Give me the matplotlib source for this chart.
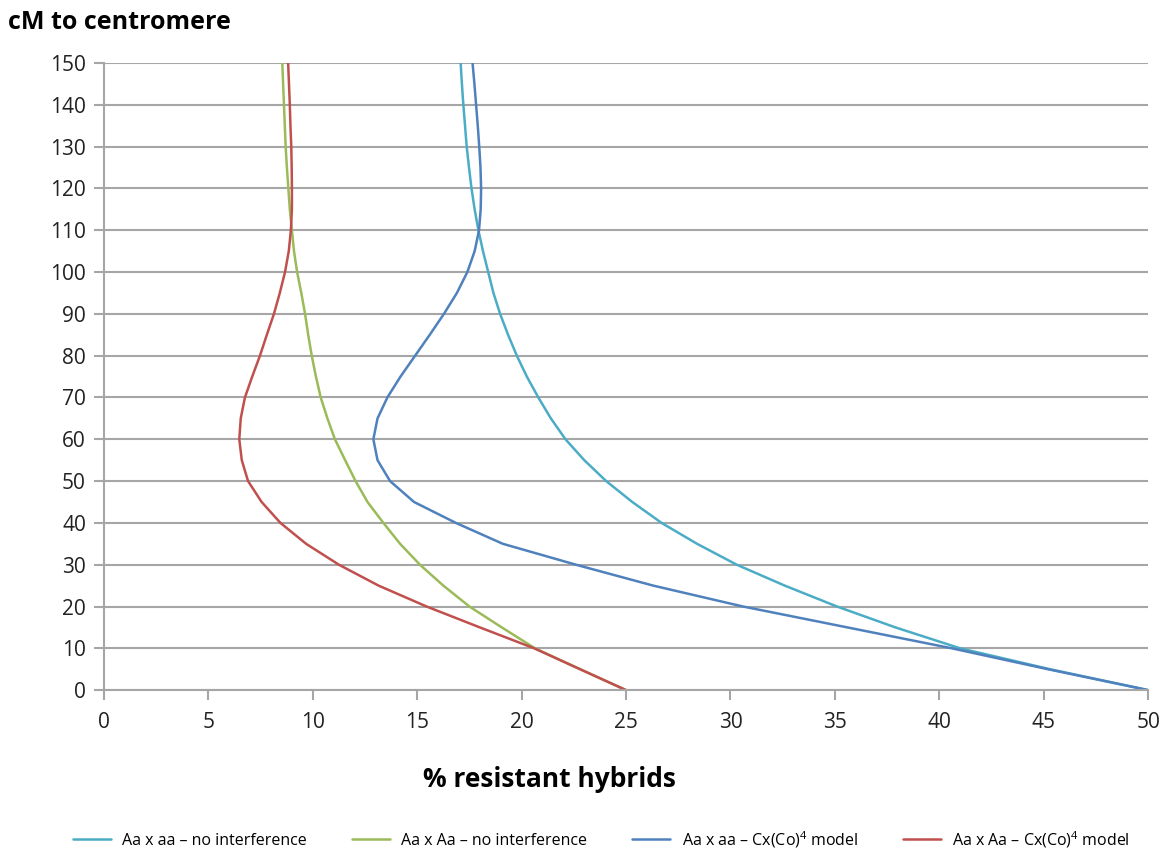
import matplotlib.pyplot as plt

# cM to centromere (y) and % resistant hybrids (x) for each series
cm = [0, 5, 10, 15, 20, 25, 30, 35, 40, 45, 50, 55, 60, 65, 70, 75,
      80, 85, 90, 95, 100, 105, 110, 115, 120, 125, 130, 135, 140, 145, 150]

aa_no_int = [50, 45.3, 41.0, 37.9, 35.1, 32.6, 30.3, 28.4, 26.7, 25.3, 24.05,
             23.0, 22.1, 21.4, 20.8, 20.25, 19.77, 19.35, 18.97, 18.65, 18.4,
             18.15, 17.93, 17.75, 17.6, 17.48, 17.37, 17.29, 17.21, 17.14, 17.08]
Aa_no_int = [25, 22.8, 20.64, 19.05, 17.5, 16.25, 15.13, 14.18, 13.38, 12.62, 12.05,
             11.55, 11.06, 10.7, 10.38, 10.15, 9.95, 9.78, 9.63, 9.45, 9.25,
             9.1, 9.0, 8.9, 8.83, 8.76, 8.7, 8.66, 8.62, 8.58, 8.54]
aa_cx = [50, 45.2, 40.6, 35.6, 30.6, 26.3, 22.6, 19.1, 16.85, 14.85, 13.7,
         13.1, 12.9, 13.1, 13.57, 14.2, 14.9, 15.6, 16.28, 16.9, 17.4,
         17.75, 17.96, 18.04, 18.06, 18.03, 17.97, 17.9, 17.82, 17.74, 17.65]
Aa_cx = [25, 22.8, 20.6, 18.0, 15.45, 13.15, 11.25, 9.68, 8.45, 7.55, 6.9,
         6.6, 6.48, 6.55, 6.75, 7.1, 7.47, 7.8, 8.14, 8.42, 8.67,
         8.85, 8.95, 9.0, 9.0, 8.99, 8.97, 8.93, 8.9, 8.86, 8.82]

labels = ["Aa x aa \u2013 no interference",
          "Aa x Aa \u2013 no interference",
          "Aa x aa \u2013 Cx(Co)$^4$ model",
          "Aa x Aa \u2013 Cx(Co)$^4$ model"]
colors = ["#4BACC6", "#9BBB59", "#4F81BD", "#C0504D"]

plt.rcParams["font.family"] = ["Open Sans", "DejaVu Sans"]
plt.rcParams["mathtext.fontset"] = "custom"
plt.rcParams["mathtext.rm"] = "Open Sans"

fig = plt.figure(figsize=(11.68, 8.52), dpi=100)
ax = fig.add_axes([0.089, 0.190, 0.894, 0.736])

for xs, lab, col in zip([aa_no_int, Aa_no_int, aa_cx, Aa_cx], labels, colors):
    ax.plot(xs, cm, "-", color=col, lw=1.8, label=lab,
            solid_joinstyle="round", solid_capstyle="round")

ax.set_xlim(0, 50)
ax.set_ylim(0, 150)
ax.set_xticks(range(0, 51, 5))
ax.set_yticks(range(0, 151, 10))
ax.grid(True, axis="y", color="#A6A6A6", lw=1.5)
ax.set_axisbelow(True)
for s in ["top", "right"]:
    ax.spines[s].set_visible(False)
for s in ["left", "bottom"]:
    ax.spines[s].set_color("#A6A6A6")
    ax.spines[s].set_linewidth(1.5)
ax.tick_params(axis="both", colors="#A6A6A6", width=1.5, length=7,
               labelcolor="#222222", labelsize=15)
ax.tick_params(axis="x", pad=9)
ax.tick_params(axis="y", pad=6)

fig.text(0.007, 0.974, "cM to centromere", fontsize=18, fontweight="bold",
         va="center", ha="left")
fig.text(0.47, 0.085, "% resistant hybrids", fontsize=19, fontweight="bold",
         va="center", ha="center")

fig.legend(loc="lower center", bbox_to_anchor=(0.515, -0.014), ncol=4,
           frameon=False, fontsize=11.5, handlelength=2.4, columnspacing=2.8,
           handletextpad=0.7)

plt.savefig("out.png", dpi=100)
